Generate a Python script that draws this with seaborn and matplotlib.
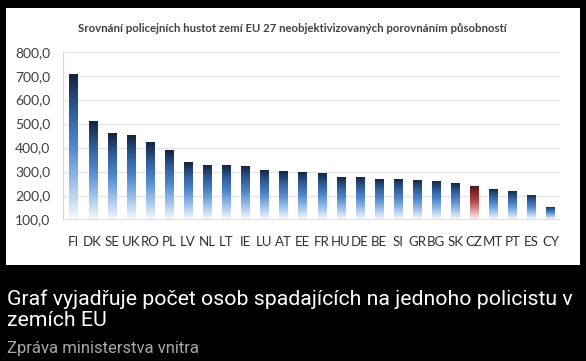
import numpy as np
import pandas as pd
import seaborn as sns
import matplotlib.pyplot as plt
from matplotlib.colors import LinearSegmentedColormap
from matplotlib.patches import Rectangle

#%% data
countries = ["FI", "DK", "SE", "UK", "RO", "PL", "LV", "NL", "LT", "IE", "LU", "AT", "EE",
             "FR", "HU", "DE", "BE", "SI", "GR", "BG", "SK", "CZ", "MT", "PT", "ES", "CY"]
values = [706, 510, 462, 451, 422, 392, 339, 328, 328, 323, 306, 302, 297,
          292, 278, 278, 270, 270, 265, 260, 253, 241, 226, 217, 201, 153]
highlight = "CZ"
yticks = [100, 200, 300, 400, 500, 600, 700, 800]

chart_title = "Srovnání policejních hustot zemí EU 27 neobjektivizovaných porovnáním působností"
caption = "Graf vyjadřuje počet osob spadajících na jednoho policistu v\nzemích EU"
source = "Zpráva ministerstva vnitra"

df = pd.DataFrame({"country": countries, "value": values})

#%% style
sns.set_style("white")
plt.rcParams["font.family"] = ["Lato", "DejaVu Sans"]

blue_cmap = LinearSegmentedColormap.from_list(
    "bluebar", ["#f4f8fd", "#9cc0ea", "#4f88cc", "#2f5b96", "#13213a"])
red_cmap = LinearSegmentedColormap.from_list(
    "redbar", ["#fbeeee", "#e0a0a0", "#b84a4a", "#8a2a2a", "#4a1414"])

fig = plt.figure(figsize=(5.86, 3.61), dpi=100, facecolor="black")
fig.patches.append(Rectangle((6 / 586, 1 - 265 / 361), 574 / 586, 257 / 361,
                             transform=fig.transFigure, facecolor="white",
                             edgecolor="none", zorder=0))

ax = fig.add_axes([63 / 586, 1 - 219.5 / 361, 497 / 586, (219.5 - 51.7) / 361])
ax.set_facecolor("white")
ax.set_zorder(1)

sns.barplot(data=df, x="country", y="value", width=0.42, color="#4f88cc", ax=ax)

ax.set_ylim(100, 800)
ax.set_yticks(yticks)
ax.set_yticklabels([f"{t:.1f}".replace(".", ",") for t in yticks])

# gradient fill clipped to each bar
grad = np.linspace(0, 1, 256).reshape(-1, 1)
for p, c in zip(ax.patches, countries):
    x0 = p.get_x()
    w = p.get_width()
    h = p.get_height()
    cmap = red_cmap if c == highlight else blue_cmap
    im = ax.imshow(grad, extent=[x0, x0 + w, 100, h], origin="lower",
                   aspect="auto", cmap=cmap, zorder=2)
    im.set_clip_path(p)
    p.set_facecolor("none")
    p.set_edgecolor("none")
ax.set_xlim(-0.55, len(countries) - 0.5)
ax.set_ylim(100, 800)

ax.yaxis.grid(True, color="#e4e4e4", linewidth=0.9)
ax.set_axisbelow(True)
for s in ["top", "right", "bottom"]:
    ax.spines[s].set_visible(False)
ax.spines["left"].set_color("#d8d8d8")
ax.axhline(100, color="#d8d8d8", linewidth=1.2, zorder=3)

ax.tick_params(axis="y", length=0, pad=9, labelsize=10, labelcolor="#404040")
ax.tick_params(axis="x", length=0, pad=12, labelsize=9.5, labelcolor="#303030")
ax.set_xlabel("")
ax.set_ylabel("")

fig.text(292 / 586, 1 - 29 / 361, chart_title, ha="center", va="center",
         fontsize=8.2, fontweight="bold", color="#404040")

fig.text(7 / 586, 1 - 310 / 361, caption, ha="left", va="center",
         fontsize=15.3, color="white", family=["Roboto", "DejaVu Sans"],
         linespacing=1.12)
fig.text(7 / 586, 1 - 349 / 361, source, ha="left", va="center",
         fontsize=12, color="#a8a8a8", family=["Roboto", "DejaVu Sans"])

fig.savefig("out.png", dpi=100, facecolor="black")
